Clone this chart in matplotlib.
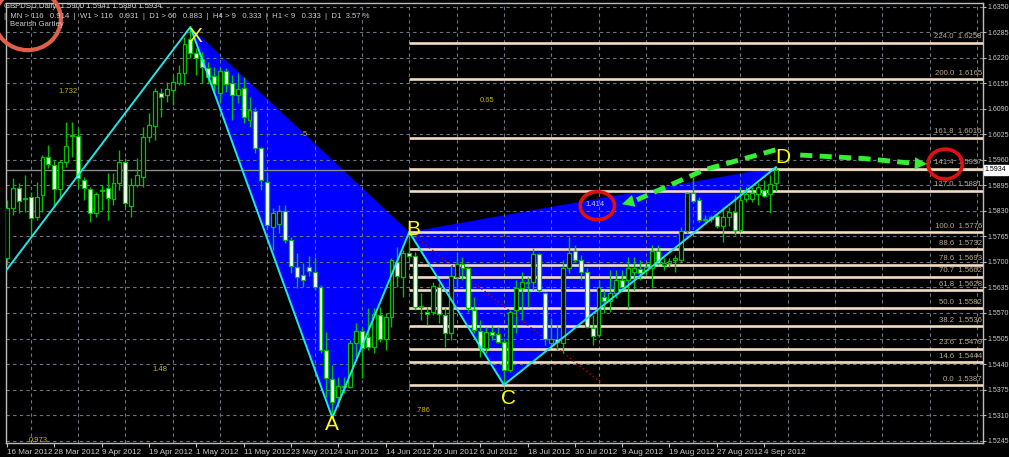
import numpy as np
import matplotlib.pyplot as plt
from matplotlib.patches import Polygon, Ellipse

# GBPUSD daily bars, 16 Mar 2012 .. 7 Sep 2012
opens = [1.5710, 1.5837, 1.5888, 1.5863, 1.5865, 1.5815, 1.5871, 1.5967, 1.5947, 1.5886,
         1.5955, 1.6023, 1.6021, 1.5909, 1.5886, 1.5825, 1.5883, 1.5888, 1.5860, 1.5901,
         1.5955, 1.5843, 1.5896, 1.5916, 1.6018, 1.6046, 1.6130, 1.6125, 1.6138, 1.6156,
         1.6181, 1.6268, 1.6232, 1.6217, 1.6194, 1.6174, 1.6130, 1.6186, 1.6156, 1.6125,
         1.6143, 1.6061, 1.6084, 1.5990, 1.5904, 1.5789, 1.5797, 1.5830, 1.5756, 1.5687,
         1.5667, 1.5687, 1.5674, 1.5636, 1.5476, 1.5402, 1.5356, 1.5382, 1.5382, 1.5494,
         1.5524, 1.5509, 1.5484, 1.5565, 1.5504, 1.5560, 1.5700, 1.5662, 1.5723, 1.5715,
         1.5585, 1.5573, 1.5573, 1.5636, 1.5565, 1.5519, 1.5662, 1.5695, 1.5685, 1.5578,
         1.5524, 1.5481, 1.5522, 1.5517, 1.5496, 1.5425, 1.5578, 1.5634, 1.5649, 1.5649,
         1.5720, 1.5621, 1.5494, 1.5504, 1.5494, 1.5685, 1.5728, 1.5705, 1.5674, 1.5532,
         1.5514, 1.5611, 1.5601, 1.5621, 1.5654, 1.5654, 1.5674, 1.5682, 1.5680, 1.5685,
         1.5728, 1.5692, 1.5697, 1.5705, 1.5705, 1.5779, 1.5876, 1.5858, 1.5807, 1.5809,
         1.5817, 1.5792, 1.5815, 1.5827, 1.5781, 1.5860, 1.5860, 1.5873, 1.5883, 1.5873,
         1.5900]
highs = [1.5858, 1.5914, 1.5901, 1.5921, 1.5878, 1.5904, 1.5972, 1.5998, 1.5960, 1.5960,
         1.6056, 1.6056, 1.6041, 1.5916, 1.5891, 1.5878, 1.5896, 1.5927, 1.5927, 1.5985,
         1.5965, 1.5914, 1.5965, 1.6044, 1.6079, 1.6143, 1.6143, 1.6158, 1.6176, 1.6202,
         1.6273, 1.6298, 1.6245, 1.6235, 1.6209, 1.6196, 1.6196, 1.6194, 1.6176, 1.6181,
         1.6171, 1.6120, 1.6095, 1.5993, 1.5929, 1.5837, 1.5845, 1.5845, 1.5764, 1.5723,
         1.5697, 1.5715, 1.5713, 1.5641, 1.5522, 1.5438, 1.5407, 1.5407, 1.5501, 1.5545,
         1.5534, 1.5583, 1.5583, 1.5585, 1.5570, 1.5710, 1.5738, 1.5731, 1.5776, 1.5725,
         1.5621, 1.5585, 1.5649, 1.5646, 1.5583, 1.5692, 1.5725, 1.5713, 1.5687, 1.5611,
         1.5552, 1.5534, 1.5540, 1.5534, 1.5506, 1.5578, 1.5654, 1.5674, 1.5662, 1.5736,
         1.5723, 1.5624, 1.5557, 1.5540, 1.5705, 1.5764, 1.5743, 1.5718, 1.5685, 1.5565,
         1.5654, 1.5629, 1.5680, 1.5680, 1.5680, 1.5713, 1.5713, 1.5705, 1.5700, 1.5743,
         1.5743, 1.5710, 1.5710, 1.5718, 1.5789, 1.5878, 1.5916, 1.5865, 1.5820, 1.5820,
         1.5825, 1.5840, 1.5840, 1.5871, 1.5891, 1.5891, 1.5891, 1.5901, 1.5909, 1.5921,
         1.5941]
lows = [1.5692, 1.5820, 1.5825, 1.5827, 1.5764, 1.5807, 1.5827, 1.5939, 1.5840, 1.5858,
        1.5942, 1.5967, 1.5888, 1.5858, 1.5802, 1.5815, 1.5832, 1.5807, 1.5845, 1.5883,
        1.5840, 1.5815, 1.5891, 1.5891, 1.6005, 1.6011, 1.6069, 1.6107, 1.6100, 1.6151,
        1.6151, 1.6219, 1.6176, 1.6156, 1.6156, 1.6133, 1.6107, 1.6133, 1.6061, 1.6105,
        1.6054, 1.6044, 1.5977, 1.5883, 1.5787, 1.5731, 1.5774, 1.5748, 1.5672, 1.5634,
        1.5636, 1.5664, 1.5629, 1.5468, 1.5356, 1.5303, 1.5331, 1.5366, 1.5379, 1.5458,
        1.5405, 1.5476, 1.5468, 1.5496, 1.5476, 1.5534, 1.5636, 1.5611, 1.5705, 1.5578,
        1.5552, 1.5540, 1.5565, 1.5545, 1.5484, 1.5501, 1.5636, 1.5654, 1.5573, 1.5519,
        1.5458, 1.5468, 1.5501, 1.5494, 1.5387, 1.5420, 1.5519, 1.5552, 1.5585, 1.5629,
        1.5624, 1.5489, 1.5484, 1.5476, 1.5468, 1.5672, 1.5700, 1.5654, 1.5532, 1.5489,
        1.5509, 1.5570, 1.5573, 1.5608, 1.5629, 1.5583, 1.5629, 1.5654, 1.5667, 1.5634,
        1.5692, 1.5680, 1.5687, 1.5674, 1.5700, 1.5774, 1.5853, 1.5802, 1.5802, 1.5802,
        1.5787, 1.5751, 1.5792, 1.5769, 1.5776, 1.5853, 1.5853, 1.5845, 1.5865, 1.5825,
        1.5880]
closes = [1.5837, 1.5888, 1.5855, 1.5860, 1.5812, 1.5865, 1.5967, 1.5949, 1.5886, 1.5955,
          1.5995, 1.6021, 1.5914, 1.5888, 1.5825, 1.5873, 1.5881, 1.5863, 1.5901, 1.5955,
          1.5850, 1.5896, 1.5921, 1.6018, 1.6049, 1.6135, 1.6120, 1.6140, 1.6158, 1.6181,
          1.6255, 1.6232, 1.6219, 1.6196, 1.6171, 1.6153, 1.6186, 1.6153, 1.6125, 1.6140,
          1.6069, 1.6087, 1.5990, 1.5909, 1.5794, 1.5825, 1.5830, 1.5756, 1.5690, 1.5662,
          1.5654, 1.5677, 1.5636, 1.5476, 1.5405, 1.5344, 1.5384, 1.5384, 1.5494, 1.5524,
          1.5481, 1.5484, 1.5568, 1.5504, 1.5560, 1.5705, 1.5664, 1.5723, 1.5715, 1.5585,
          1.5588, 1.5568, 1.5639, 1.5568, 1.5519, 1.5664, 1.5695, 1.5685, 1.5583, 1.5527,
          1.5484, 1.5522, 1.5514, 1.5496, 1.5425, 1.5573, 1.5634, 1.5649, 1.5646, 1.5720,
          1.5629, 1.5504, 1.5504, 1.5496, 1.5685, 1.5723, 1.5705, 1.5674, 1.5534, 1.5512,
          1.5636, 1.5601, 1.5621, 1.5654, 1.5636, 1.5685, 1.5685, 1.5672, 1.5687, 1.5728,
          1.5697, 1.5697, 1.5702, 1.5710, 1.5779, 1.5876, 1.5855, 1.5807, 1.5809, 1.5815,
          1.5792, 1.5815, 1.5827, 1.5781, 1.5858, 1.5873, 1.5876, 1.5891, 1.5869, 1.5899,
          1.5934]

date_labels = ['16 Mar 2012', '28 Mar 2012', '9 Apr 2012', '19 Apr 2012', '1 May 2012',
               '11 May 2012', '23 May 2012', '4 Jun 2012', '14 Jun 2012', '26 Jun 2012',
               '6 Jul 2012', '18 Jul 2012', '30 Jul 2012', '9 Aug 2012', '19 Aug 2012',
               '27 Aug 2012', '4 Sep 2012']
date_bars = list(range(0, 129, 8))

price_ticks = [1.5245, 1.5310, 1.5375, 1.5440, 1.5505, 1.5570, 1.5635, 1.5700, 1.5765,
               1.5830, 1.5895, 1.5960, 1.6025, 1.6090, 1.6155, 1.6220, 1.6285, 1.6350]

# fibonacci expansion of the BC leg
fib_pct = ['0.0', '14.6', '23.6', '38.2', '50.0', '61.8', '70.7', '78.6', '88.6',
           '100.0', '127.0', '141.4', '161.8', '200.0', '224.0']
fib_price = [1.5387, 1.5444, 1.5479, 1.5536, 1.5582, 1.5628, 1.5662, 1.5693, 1.5732,
             1.5776, 1.5881, 1.5937, 1.6016, 1.6165, 1.6258]

# gartley points
pt_names = ['X', 'A', 'B', 'C', 'D']
pt_bars = [31, 55, 68, 84, 130]
pt_prices = [1.6298, 1.5303, 1.5776, 1.5387, 1.5941]
leg_start_bar, leg_start_price = -10, 1.5482

ratio_labels = ['1.732', '5', '0.65', '1.48', '.786', '0.973', '1.414']
ratio_bars = [10.3, 50.4, 81.2, 25.9, 70.2, 5.2, 99.4]
ratio_prices = [1.6133, 1.6023, 1.6110, 1.5425, 1.5321, 1.5246, 1.5845]

last_price = 1.5934

W, H = 1009, 457
fig = plt.figure(figsize=(W / 100, H / 100), dpi=100, facecolor='black')
ax = fig.add_axes([6 / W, 1 - 443 / H, 977 / W, 440 / H])
ax.set_facecolor('black')
ax.set_xlim(-0.17, 165.0)
ax.set_ylim(1.5239, 1.6359)

font = 'Liberation Sans'
grey = '#c8c8c8'

# blue pattern triangles
xb = dict(zip(pt_names, pt_bars))
xp = dict(zip(pt_names, pt_prices))
for tri in (['X', 'A', 'B'], ['B', 'C', 'D']):
    ax.add_patch(Polygon([(xb[n], xp[n]) for n in tri], closed=True,
                         facecolor='#0000ff', edgecolor='none', zorder=1))

# grid
for p in price_ticks:
    ax.axhline(p, color='#6c7480', lw=0.8, ls=(0, (3, 3)), zorder=2)
for b in np.arange(4, 166, 8):
    ax.axvline(b, color='#6c7480', lw=0.8, ls=(0, (3, 3)), zorder=2)

# fibonacci levels
for pct, p in zip(fib_pct, fib_price):
    ax.plot([xb['B'], 166], [p, p], color='#f2dcc2', lw=1.9, zorder=3, solid_capstyle='butt')
    ax.text(164.8, p + 0.0006, f'{pct}  {p:.4f}', color='#b8a890', fontsize=5.6,
            family=font, ha='right', va='bottom', zorder=3)

# current price line
ax.axhline(last_price, color='#8c8c8c', lw=1, zorder=2)

# dotted red line from B
ax.plot([68, 100.5], [1.5776, 1.5392], color='#c00000', lw=1, ls=(0, (1, 2)), zorder=3)

# candles
o = np.array(opens)
c = np.array(closes)
bars = np.arange(len(o))
ax.vlines(bars, lows, highs, color='#00c000', lw=1, zorder=4)
bear = c < o
ax.bar(bars, np.maximum(np.abs(c - o), 0.00008), bottom=np.minimum(o, c), width=0.66,
       color=np.where(bear, 'white', 'black'), edgecolor='#00c000', linewidth=0.9, zorder=5)

# cyan legs
ax.plot([leg_start_bar] + pt_bars, [leg_start_price] + pt_prices, color='#22e6e6', lw=1.4, zorder=6)

# point labels
offs = {'X': (4, -7), 'A': (0, -5), 'B': (3, 2), 'C': (3, -10), 'D': (5, 7)}
for n in pt_names:
    ax.annotate(n, (xb[n], xp[n]), xytext=offs[n], textcoords='offset points',
                color='#ffff00', fontsize=15, family=font, ha='center', va='center', zorder=7)

for t, b, p in zip(ratio_labels, ratio_bars, ratio_prices):
    col = '#c8c8c8' if t == '1.414' else '#c8b400'
    ax.text(b, p, t, color=col, fontsize=5.5, family=font, ha='center', va='center', zorder=7)

# hand drawn marks
ax.add_patch(Ellipse((99.8, 1.5843), 5.8, 0.0071, fill=False, ec='#e01010', lw=2.6, zorder=8))
ax.add_patch(Ellipse((158.6, 1.5949), 5.8, 0.0076, fill=False, ec='#e01010', lw=2.6,
                     zorder=8, clip_on=False))
ax.add_patch(Ellipse((3.5, 1.6318), 11.2, 0.0158, fill=False, ec='#e0604a', lw=3,
                     zorder=8, clip_on=False))

green = '#33ee33'
ax.plot([129.9, 118, 106.5], [1.5985, 1.5935, 1.5858], color=green, lw=3.5,
        ls=(0, (2.5, 1.5)), zorder=8)
ax.annotate('', xy=(103.5, 1.5845), xytext=(107.5, 1.5862),
            arrowprops=dict(arrowstyle='-|>', color=green, mutation_scale=22, lw=0), zorder=8)
ax.plot([134.1, 145, 152.5], [1.5972, 1.5963, 1.5952], color=green, lw=3.5,
        ls=(0, (2.5, 1.5)), zorder=8, clip_on=False)
ax.annotate('', xy=(156, 1.5949), xytext=(152, 1.5952),
            arrowprops=dict(arrowstyle='-|>', color=green, mutation_scale=22, lw=0), zorder=8)

# axes
for s in ax.spines.values():
    s.set_color('#bdbdbd')
    s.set_linewidth(1)
ax.set_xticks(date_bars)
ax.set_xticklabels(date_labels)
ax.set_yticks(price_ticks)
ax.set_yticklabels([f'{p:.4f}' for p in price_ticks])
ax.yaxis.tick_right()
ax.tick_params(axis='x', colors='#bdbdbd', labelcolor=grey, labelsize=5.9, length=3,
               width=0.8, pad=1)
ax.tick_params(axis='y', colors='#bdbdbd', labelcolor=grey, labelsize=5.0, length=2,
               width=0.8, pad=1)
for lab in ax.get_xticklabels():
    lab.set_horizontalalignment('left')
    lab.set_family(font)
for lab in ax.get_yticklabels():
    lab.set_family(font)

# last price box
ax.text(1.002, last_price, f'{last_price:.4f}', transform=ax.get_yaxis_transform(),
        color='black', fontsize=5.0, family=font, ha='left', va='center',
        bbox=dict(boxstyle='square,pad=0.15', fc='white', ec='white'), clip_on=False, zorder=9)

# header text
fig.text(4 / W, 1 - 7 / H, 'GBPUSD,Daily  1.5900 1.5941 1.5880 1.5934', color=grey,
         fontsize=5.6, family=font, va='center')
fig.text(4 / W, 1 - 16 / H, '|  MN > 116   0.914  |  W1 > 116   0.931  |  D1 > 60   0.883  |'
         '  H4 > 9   0.333  |  H1 < 9   0.333  |  D1  3.57 %', color=grey, fontsize=5.6,
         family=font, va='center')
fig.text(10 / W, 1 - 25 / H, 'Bearish Gartley', color=grey, fontsize=5.6, family=font, va='center')

fig.savefig('out.png', dpi=100, facecolor='black')
